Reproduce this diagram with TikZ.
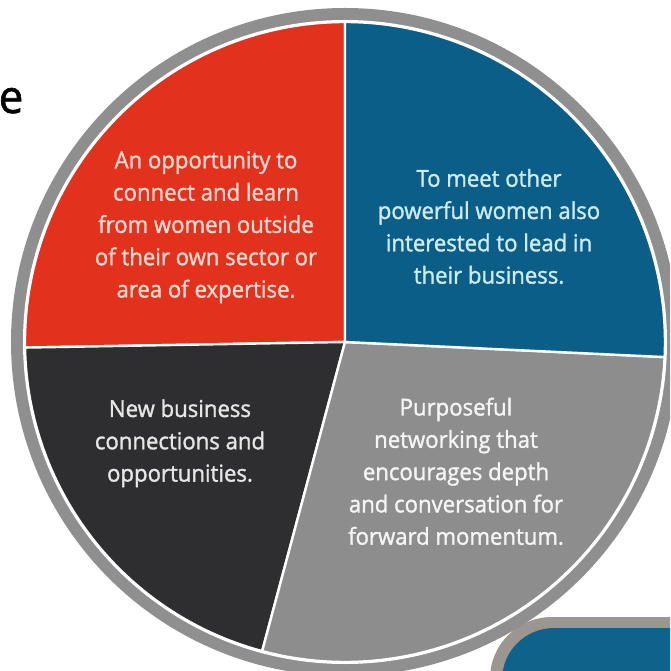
\documentclass[tikz,border=0pt]{standalone}
\usepackage{fontspec}
\setmainfont{Open Sans}[FakeStretch=0.96]
\newfontfamily\semib{Open Sans}[FakeStretch=0.95, FakeBold=1.4]
\usepackage{array}
\definecolor{ringgray}{HTML}{8F8F8F}
\definecolor{slred}{HTML}{E2311D}
\definecolor{slblue}{HTML}{0A5E87}
\definecolor{sldark}{HTML}{2E2E30}
\definecolor{slgray}{HTML}{8D8D8D}
\definecolor{txred}{HTML}{F7D9CF}
\definecolor{txblue}{HTML}{CDEBF3}
\definecolor{txdark}{HTML}{E6E6E6}
\definecolor{txgray}{HTML}{F5F5F5}
\definecolor{boxborder}{HTML}{9B9690}
\definecolor{boxfill}{HTML}{0F628A}
\begin{document}
\begin{tikzpicture}[x=1pt,y=1pt,
  txt/.style={anchor=base, inner sep=0pt, font=\semib\fontsize{23.3}{32.3}\selectfont},
  sector/.style={draw=white, line width=2.4pt, line join=round}]
\clip (-345,-329) rectangle (325,342);
\fill[white] (-345,-329) rectangle (325,342);
% bottom-right rounded box
\fill[boxborder, rounded corners=62pt] (145,-275) rectangle (420,-420);
\fill[boxfill, rounded corners=52pt] (157,-286) rectangle (420,-420);
% ring
\fill[ringgray] (0,0) circle[radius=334];
\fill[white] (0,0) circle[radius=322];
% sectors
\filldraw[sector, fill=slred] (0,0) -- (90:320) arc[start angle=90, end angle=181, radius=320] -- cycle;
\filldraw[sector, fill=sldark] (0,0) -- (181:320) arc[start angle=181, end angle=255, radius=320] -- cycle;
\filldraw[sector, fill=slgray] (0,0) -- (255:320) arc[start angle=255, end angle=357.3, radius=320] -- cycle;
\filldraw[sector, fill=slblue] (0,0) -- (-2.7:320) arc[start angle=-2.7, end angle=90, radius=320] -- cycle;
% texts
\node[txt, text=txred] (tred) at (-139,173.7) {\begin{tabular}[t]{@{}c@{}}An opportunity to\\ connect and learn\\ from women outside\\ of their own sector or\\ area of expertise.\end{tabular}};
\node[txt, text=txblue] (tblue) at (144,155.3) {\begin{tabular}[t]{@{}c@{}}To meet other\\ powerful women also\\ interested to lead in\\ their business.\end{tabular}};
\node[txt, text=txdark] (tdark) at (-165,-75) {\begin{tabular}[t]{@{}c@{}}New business\\ connections and\\ opportunities.\end{tabular}};
\node[txt, text=txgray] (tgray) at (111,-73.5) {\begin{tabular}[t]{@{}c@{}}Purposeful\\ networking that\\ encourages depth\\ and conversation for\\ forward momentum.\end{tabular}};
\node[anchor=base east, inner sep=0pt, font=\semib\fontsize{46}{50}\selectfont] (ech) at (-321.5,229) {e};
\end{tikzpicture}
\end{document}
